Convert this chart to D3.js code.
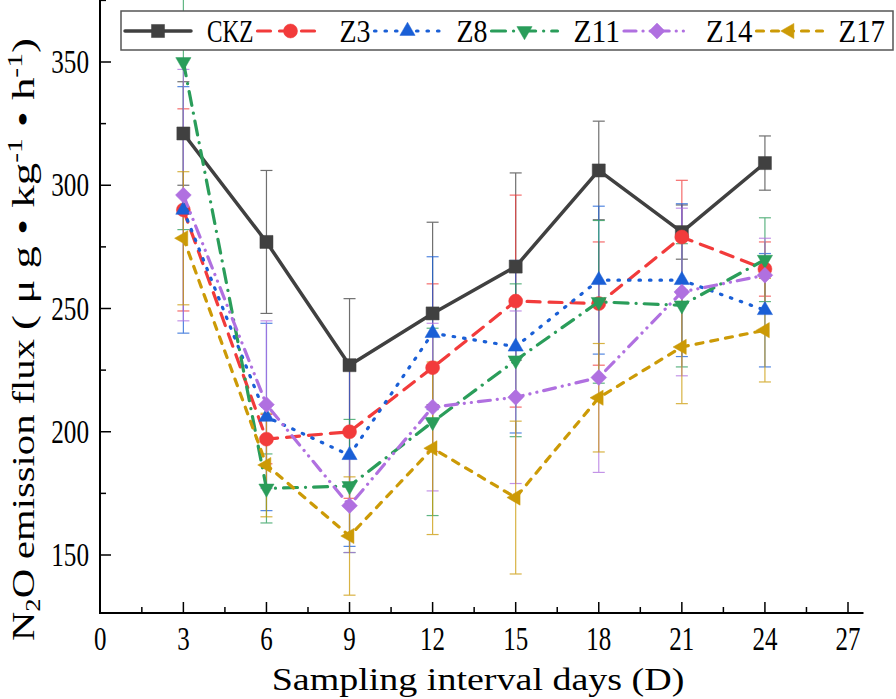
<!DOCTYPE html>
<html><head><meta charset="utf-8">
<script src="https://cdn.jsdelivr.net/npm/d3@7/dist/d3.min.js"></script>
<style>body{margin:0;background:#fff}svg{display:block}</style>
</head><body>
<svg id="c" width="896" height="699"></svg>
<script>
// ---- data ----
const days = [3, 6, 9, 12, 15, 18, 21, 24];
const seriesNames = ["CKZ", "Z3", "Z8", "Z11", "Z14", "Z17"];
const ckz    = [321, 277, 227, 248, 267, 306, 281, 309];
const ckzErr = [21, 29, 27, 37, 38, 20, 11, 11];
const z3     = [290, 197, 200, 226, 253, 252, 279, 266];
const z3Err  = [41, 10, 27, 34, 43, 25, 23, 11];
const z8     = [290, 206, 190.5, 240, 234.5, 261.5, 261.5, 249.3];
const z8Err  = [50, 38, 37, 31, 35, 30, 31, 23];
const z11    = [350, 177, 178, 204, 229, 252.7, 251.3, 269.8];
const z11Err = [68, 14, 27, 38, 31, 33, 25, 17];
const z14    = [296, 211, 170, 210, 214, 222, 256.7, 263.5];
const z14Err = [51, 34, 19, 34, 35, 38.5, 34, 15];
const z17    = [278.5, 186.5, 157.7, 193.3, 173.3, 213.8, 234.4, 241.2];
const z17Err = [27, 21, 24, 35, 31, 22, 23, 21];
const xTicks = [0, 3, 6, 9, 12, 15, 18, 21, 24, 27];
const yTicks = [150, 200, 250, 300, 350];
const xTitle = "Sampling interval days (D)";

const values = [ckz, z3, z8, z11, z14, z17];
const errors = [ckzErr, z3Err, z8Err, z11Err, z14Err, z17Err];

// ---- styles ----
const colors = ["#404040", "#f23b3b", "#1a5fd6", "#2a9d5a", "#b070e0", "#cc9a06"];
const dashes = [null, "13 9", "1.5 9", "14 8 0.1 8", "12 7 0.1 7 0.1 7", "7 8"];
const widths = [3.5, 3.2, 3.2, 3.2, 3.2, 3.2];
const symbols = [
  {t: d3.symbolSquare, s: 170, r: 0},
  {t: d3.symbolCircle, s: 154, r: 0},
  {t: d3.symbolTriangle, s: 100, r: 0},
  {t: d3.symbolTriangle, s: 100, r: 180},
  {t: d3.symbolSquare, s: 125, r: 45},
  {t: d3.symbolTriangle, s: 100, r: -90}
];

const svg = d3.select("#c");
const FONT = "'Liberation Serif', 'DejaVu Serif', serif";

// scales
const x = d3.scaleLinear().domain([0, 27]).range([100.3, 848]);
const y = d3.scaleLinear().domain([150, 350]).range([555, 62]);
const x0 = 100, xEnd = 863.5, yBottom = 613, yTop = 0;

// text squeezed horizontally to a target width (serif glyphs, condensed look)
function fitText(parent, px, py, str, size, targetW, anchor) {
  const g = parent.append("g").attr("transform", `translate(${px},${py})`);
  const inner = g.append("g");
  const t = inner.append("text").attr("x", 0).attr("y", 0)
    .attr("font-family", FONT).attr("font-size", size)
    .attr("text-anchor", anchor || "start").attr("fill", "#000").text(str);
  const w = t.node().getComputedTextLength();
  inner.attr("transform", `scale(${targetW / w},1)`);
  return t;
}

const plot = svg.append("g");

// error bars
seriesNames.forEach((name, si) => {
  const g = plot.append("g").attr("stroke", colors[si]).attr("stroke-width", 1.2).attr("opacity", 0.75);
  days.forEach((d, i) => {
    const v = values[si][i], e = errors[si][i];
    const xx = x(d), y1 = y(v + e), y2 = y(v - e);
    g.append("line").attr("x1", xx).attr("x2", xx).attr("y1", y1).attr("y2", y2);
    g.append("line").attr("x1", xx - 6).attr("x2", xx + 6).attr("y1", y1).attr("y2", y1);
    g.append("line").attr("x1", xx - 6).attr("x2", xx + 6).attr("y1", y2).attr("y2", y2);
  });
});

// lines + markers
const line = d3.line().x(d => x(d[0])).y(d => y(d[1]));
seriesNames.forEach((name, si) => {
  const pts = days.map((d, i) => [d, values[si][i]]);
  plot.append("path").datum(pts).attr("d", line)
    .attr("fill", "none").attr("stroke", colors[si]).attr("stroke-width", widths[si])
    .attr("stroke-linecap", "round").attr("stroke-linejoin", "round")
    .attr("stroke-dasharray", dashes[si]);
  const sym = symbols[si];
  plot.selectAll(null).data(pts).enter().append("path")
    .attr("d", d3.symbol().type(sym.t).size(sym.s))
    .attr("transform", d => `translate(${x(d[0])},${y(d[1])}) rotate(${sym.r})`)
    .attr("fill", colors[si]).attr("stroke", colors[si]).attr("stroke-width", 0.5);
});

// axes
const ax = svg.append("g").attr("stroke", "#000").attr("stroke-width", 2);
ax.append("line").attr("x1", x0).attr("x2", x0).attr("y1", yTop).attr("y2", yBottom + 1);
ax.append("line").attr("x1", x0 - 1).attr("x2", xEnd).attr("y1", yBottom).attr("y2", yBottom);
d3.range(1.5, 27.01, 1.5).forEach(t => {
  const major = Math.abs(t / 3 - Math.round(t / 3)) < 1e-6;
  ax.append("line").attr("x1", x(t)).attr("x2", x(t)).attr("y1", yBottom).attr("y2", yBottom - (major ? 11 : 6))
    .attr("stroke-width", 1.5);
});
d3.range(150, 376, 25).forEach(t => {
  const major = t % 50 === 0;
  ax.append("line").attr("x1", x0).attr("x2", x0 + (major ? 11 : 6)).attr("y1", y(t)).attr("y2", y(t))
    .attr("stroke-width", 1.5);
});

// tick labels
xTicks.forEach(t => fitText(svg, x(t), 650, String(t), 33, String(t).length * 12.5, "middle"));
yTicks.forEach(t => fitText(svg, 89, y(t) + 11, String(t), 33, String(t).length * 12.6, "end"));

// axis titles
fitText(svg, 478, 690, xTitle, 32, 413, "middle");

function yLabelPart(cy, len, build) {
  const outer = svg.append("g").attr("transform", `translate(34,${cy}) rotate(-90)`);
  const inner = outer.append("g");
  const t = inner.append("text").attr("font-family", FONT).attr("font-size", 32);
  build(t);
  const bb = t.node().getBBox();
  inner.attr("transform", `scale(${len / bb.width},1) translate(${-(bb.x + bb.width / 2)},0)`);
}
// "N2O emission flux" spans ~642 -> 338, units part ~330 -> 37
yLabelPart(490, 302, t => {
  t.append("tspan").text("N");
  t.append("tspan").attr("font-size", 21).attr("dy", 6).text("2");
  t.append("tspan").attr("dy", -6).text("O emission flux");
});
yLabelPart(184, 292, t => {
  t.append("tspan").text("( μ g • kg");
  t.append("tspan").attr("font-size", 21).attr("dy", -12).text("-1");
  t.append("tspan").attr("dy", 12).text(" • h");
  t.append("tspan").attr("font-size", 21).attr("dy", -12).text("-1");
  t.append("tspan").attr("dy", 12).text(")");
});

// legend
const lg = svg.append("g");
lg.append("rect").attr("x", 121).attr("y", 11).attr("width", 772).attr("height", 39)
  .attr("fill", "#fff").attr("stroke", "#555").attr("stroke-width", 1.5);
let lx = 125;
const ly = 31, sampleW = 66;
seriesNames.forEach((name, si) => {
  lg.append("line").attr("x1", lx).attr("x2", lx + sampleW).attr("y1", ly).attr("y2", ly)
    .attr("stroke", colors[si]).attr("stroke-width", widths[si])
    .attr("stroke-linecap", "round").attr("stroke-dasharray", dashes[si]);
  const sym = symbols[si];
  lg.append("path").attr("d", d3.symbol().type(sym.t).size(sym.s))
    .attr("transform", `translate(${lx + sampleW / 2},${ly}) rotate(${sym.r})`)
    .attr("fill", colors[si]).attr("stroke", colors[si]).attr("stroke-width", 0.5);
  const w = name.length * 15.5;
  fitText(lg, lx + sampleW + 16, 42, name, 32, w, "start");
  lx += sampleW + 16 + w + 4;
});
</script>
</body></html>
